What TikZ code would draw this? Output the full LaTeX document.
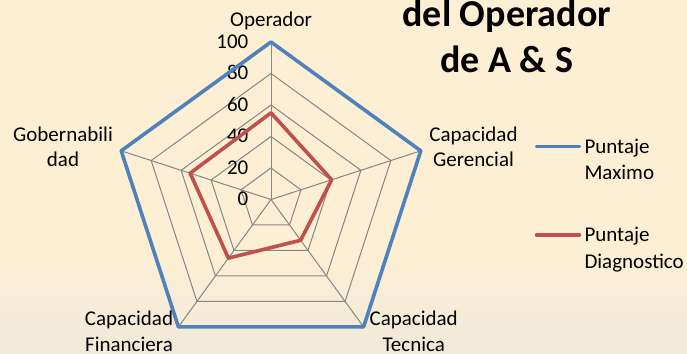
\documentclass[tikz,border=0pt]{standalone}
\usepackage{fontspec}
\setmainfont{Carlito}
\usetikzlibrary{calc}
\definecolor{bgtop}{RGB}{253,239,212}
\definecolor{bgbot}{RGB}{240,234,217}
\definecolor{gridgray}{RGB}{134,134,134}
\definecolor{maxblue}{RGB}{79,129,189}
\definecolor{diagred}{RGB}{192,80,77}
\tikzset{
  gridline/.style={draw=gridgray, line width=1pt},
  maxline/.style={draw=maxblue, line width=3.6pt, line join=round},
  diagline/.style={draw=diagred, line width=3.6pt, line join=round},
  legline/.style={line width=3.4pt, line cap=round},
  lbl/.style={font=\fontsize{21}{25.5}\selectfont, align=center, inner sep=0pt},
  tick/.style={font=\fontsize{21}{25}\selectfont, inner sep=0pt, anchor=base east},
  legtxt/.style={font=\fontsize{21}{26.7}\selectfont, align=left, inner sep=0pt},
  titletxt/.style={font=\fontsize{38}{45.7}\selectfont\bfseries, align=center, inner sep=0pt}
}
\begin{document}
\begin{tikzpicture}[x=1pt,y=1pt]
\useasboundingbox (0,0) rectangle (687,353);
\fill[bgtop] (0,0) rectangle (687,353);
\shade[bottom color=bgbot, top color=bgtop] (0,0) rectangle (687,103);
\coordinate (c) at (271,153.5);
% grid rings
\foreach \k in {1,...,5}{
  \draw[gridline] ($(c)+(90:\k*31.5)$) -- ($(c)+(18:\k*31.5)$) -- ($(c)+(-54:\k*31.5)$) -- ($(c)+(-126:\k*31.5)$) -- ($(c)+(162:\k*31.5)$) -- cycle;
}
% spokes
\foreach \a/\n in {90/op,18/ge,-54/te,-126/fi,162/go}{
  \coordinate (\n) at ($(c)+(\a:157.5)$);
  \draw[gridline] (c) -- (\n);
}
% tick labels
\foreach \k/\v in {0/0,1/20,2/40,3/60,4/80,5/100}{
  \node[tick] (t\v) at (248.5, 153.5+\k*31.5-6.5) {\v};
}
% series
\draw[maxline] (op) -- (ge) -- (te) -- (fi) -- (go) -- cycle;
\coordinate (rop) at ($(c)+(90:0.55*157.5)$);
\coordinate (rge) at ($(c)+(18:0.405*157.5)$);
\coordinate (rte) at ($(c)+(-54:0.32*157.5)$);
\coordinate (rfi) at ($(c)+(-126:0.46*157.5)$);
\coordinate (rgo) at ($(c)+(162:0.54*157.5)$);
\draw[diagline] (rop) -- (rge) -- (rte) -- (rfi) -- (rgo) -- cycle;
% axis labels (anchor=base is the baseline of the last line)
\node[lbl, anchor=base] (lop) at (271,353-26.5) {Operador};
\node[lbl, anchor=base] (lgo) at (63,353-167) {Gobernabili\\dad};
\node[lbl, anchor=base] (lge) at (473.5,353-167) {Capacidad\\Gerencial};
\node[lbl, anchor=base] (lfi) at (129,353-351.2) {Capacidad\\Financiera};
\node[lbl, anchor=base] (lte) at (413.7,353-351.2) {Capacidad\\Tecnica};
% title
\node[titletxt, anchor=base] (title) at (506.7,353-72.7) {del Operador\\de A \& S};
% legend
\coordinate (b1) at (536.5,353-146.7);
\coordinate (b2) at (579.5,353-146.7);
\draw[legline, maxblue] (b1) -- (b2);
\node[legtxt, anchor=base west] (lm) at (584.3,353-180) {Puntaje\\Maximo};
\coordinate (r1) at (536.5,353-235);
\coordinate (r2) at (579.5,353-235);
\draw[legline, diagred] (r1) -- (r2);
\node[legtxt, anchor=base west] (ld) at (584.3,353-268.3) {Puntaje\\Diagnostico};
\end{tikzpicture}
\end{document}
